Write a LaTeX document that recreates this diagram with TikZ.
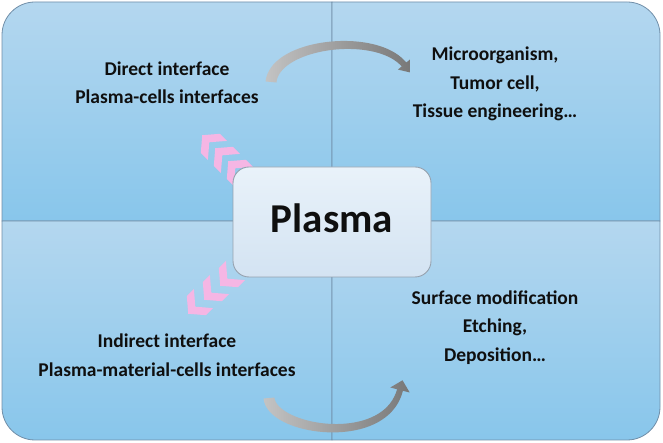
\documentclass[tikz,border=0pt]{standalone}
\usepackage{fontspec}
\setmainfont{Carlito}
\definecolor{qtop}{RGB}{180,215,239}
\definecolor{qbot}{RGB}{136,198,235}
\definecolor{qline}{RGB}{112,142,168}
\definecolor{btop}{RGB}{233,242,250}
\definecolor{bbot}{RGB}{211,227,242}
\definecolor{bline}{RGB}{150,162,175}
\definecolor{chevpink}{RGB}{245,182,228}
\definecolor{arrL}{RGB}{195,195,195}
\definecolor{arrR}{RGB}{120,120,120}
\definecolor{txt}{RGB}{15,15,15}
\tikzset{
  quad/.style={draw=qline, line width=0.8pt, top color=qtop, bottom color=qbot},
  lbl/.style={anchor=base, text=txt, inner sep=0pt, font=\fontsize{19.5}{19.5}\selectfont\bfseries},
  arrowshape/.style={left color=arrL, right color=arrR},
  pics/chev/.style={code={\fill[chevpink] (-11,0)--(0.5,13.5)--(10.5,13.5)--(-1,0)--(10.5,-13.5)--(0.5,-13.5)--cycle;}},
  declare function={
    bz(\a,\b,\c,\d,\s)=(1-\s)*(1-\s)*(1-\s)*\a+3*(1-\s)*(1-\s)*\s*\b+3*(1-\s)*\s*\s*\c+\s*\s*\s*\d;
    dbz(\a,\b,\c,\d,\s)=3*(1-\s)*(1-\s)*(\b-\a)+6*(1-\s)*\s*(\c-\b)+3*\s*\s*(\d-\c);
    ax(\s)=bz(271,275,376,404,\s); ay(\s)=bz(361,400,412,378.5,\s);
    adx(\s)=dbz(271,275,376,404,\s); ady(\s)=dbz(361,400,412,378.5,\s);
    al(\s)=veclen(adx(\s),ady(\s));
    aw(\s)=5.5-2.5*\s;
    bx(\s)=bz(269,272,385,400,\s); by(\s)=bz(45,12,-5,53,\s);
    bdx(\s)=dbz(269,272,385,400,\s); bdy(\s)=dbz(45,12,-5,53,\s);
    bl(\s)=veclen(bdx(\s),bdy(\s));
  }
}
\begin{document}
\begin{tikzpicture}[x=1pt,y=1pt]
\useasboundingbox (0,0) rectangle (663,443);
% quadrants
\path[quad] (332,222) -- (2,222) -- (2,408) arc[start angle=180,end angle=90,radius=33] -- (332,441) -- cycle;
\path[quad] (332,222) -- (332,441) -- (627,441) arc[start angle=90,end angle=0,radius=33] -- (660,222) -- cycle;
\path[quad] (332,222) -- (332,3) -- (35,3) arc[start angle=270,end angle=180,radius=33] -- (2,222) -- cycle;
\path[quad] (332,222) -- (660,222) -- (660,36) arc[start angle=0,end angle=-90,radius=33] -- (332,3) -- cycle;
% curved arrows
\path[arrowshape] plot[domain=0:1,samples=40,variable=\t] ({ax(\t)-aw(\t)*ady(\t)/al(\t)},{ay(\t)+aw(\t)*adx(\t)/al(\t)})
  -- (410.1,383.6) -- (410.7,370.4) -- (397.9,373.4)
  -- plot[domain=1:0,samples=40,variable=\t] ({ax(\t)+aw(\t)*ady(\t)/al(\t)},{ay(\t)-aw(\t)*adx(\t)/al(\t)}) -- cycle;
\path[arrowshape] plot[domain=0:1,samples=40,variable=\t] ({bx(\t)+aw(\t)*bdy(\t)/bl(\t)},{by(\t)-aw(\t)*bdx(\t)/bl(\t)})
  -- (409.7,50.5) -- (402.5,62.7) -- (390.3,55.5)
  -- plot[domain=1:0,samples=40,variable=\t] ({bx(\t)-aw(\t)*bdy(\t)/bl(\t)},{by(\t)+aw(\t)*bdx(\t)/bl(\t)}) -- cycle;
% chevrons
\pic[rotate=-45] at (210,300) {chev};
\pic[rotate=-45] at (223,287) {chev};
\pic[rotate=-45] at (236,274) {chev};
\pic[rotate=45] at (196,137) {chev};
\pic[rotate=45] at (212,151) {chev};
\pic[rotate=45] at (228,165) {chev};
% central box
\node[draw=bline, line width=0.9pt, rounded corners=16pt, top color=btop, bottom color=bbot,
      minimum width=198pt, minimum height=110pt, inner sep=0pt] (plasma) at (332,221) {};
\node[anchor=base, text=txt, inner sep=0pt, font=\fontsize{41}{41}\selectfont\bfseries] (plasmatxt) at (332,210) {Plasma};
% labels
\node[lbl] (d1) at (167,367) {Direct interface};
\node[lbl] (d2) at (167,339) {Plasma-cells interfaces};
\node[lbl] (m1) at (495,382) {Microorganism,};
\node[lbl] (m2) at (495,353) {Tumor cell,};
\node[lbl] (m3) at (495,325) {Tissue engineering…};
\node[lbl] (i1) at (167,95) {Indirect interface};
\node[lbl] (i2) at (167,66) {Plasma-material-cells interfaces};
\node[lbl] (s1) at (495,138) {Surface modification};
\node[lbl] (s2) at (495,110) {Etching,};
\node[lbl] (s3) at (495,81) {Deposition…};
\end{tikzpicture}
\end{document}
